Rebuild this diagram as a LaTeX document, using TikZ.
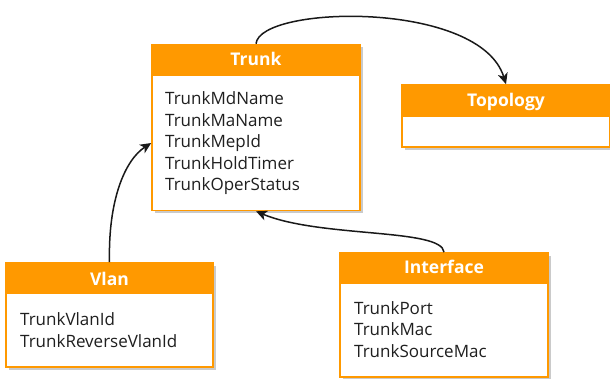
\documentclass[tikz,border=0pt]{standalone}
\usepackage{fontspec}
\setmainfont{Open Sans}
\usetikzlibrary{arrows.meta,shadows,positioning}
\definecolor{tabor}{HTML}{FF9900}
\tikzset{
  x=1pt, y=-1pt,
  tablebox/.style={draw=tabor, line width=1.6pt, fill=white, rectangle, inner sep=0pt,
    drop shadow={shadow xshift=3pt, shadow yshift=-3pt, opacity=0.35, fill=black!60}},
  tablehead/.style={fill=tabor, draw=tabor, line width=1.6pt, rectangle, inner sep=0pt, anchor=north},
  title/.style={text=white, font=\fontsize{17.5}{19}\selectfont\bfseries, anchor=base, inner sep=0pt},
  % the base anchor of a multi-line block sits on its last line
  fields/.style={align=left, anchor=base west, inner sep=0pt,
    font=\fontsize{17}{21.5}\selectfont, text=black!88},
  link/.style={draw=black!90, line width=1.5pt, -{Stealth[length=11pt,width=10pt,inset=3pt]}}
}
\begin{document}
\begin{tikzpicture}
\useasboundingbox (0,0) rectangle (610,379);
% Trunk
\node[tablebox, minimum width=208, minimum height=166] (trunk) at (256,127.5) {};
\node[tablehead, minimum width=208, minimum height=31] (trunkh) at (trunk.north) {};
\node[title] (trunkt) at (256,66) {Trunk};
\node[fields] (trunkf) at (165,191) {TrunkMdName\\TrunkMaName\\TrunkMepId\\TrunkHoldTimer\\TrunkOperStatus};
% Topology
\node[tablebox, minimum width=208, minimum height=62] (topo) at (506,116) {};
\node[tablehead, minimum width=208, minimum height=31] (topoh) at (topo.north) {};
\node[title] (topot) at (506,107) {Topology};
% Vlan
\node[tablebox, minimum width=207, minimum height=104] (vlan) at (109.5,315) {};
\node[tablehead, minimum width=207, minimum height=30] (vlanh) at (vlan.north) {};
\node[title] (vlant) at (109.5,285) {Vlan};
\node[fields] (vlanf) at (20,347) {TrunkVlanId\\TrunkReverseVlanId};
% Interface
\node[tablebox, minimum width=208, minimum height=124] (iface) at (444,315) {};
\node[tablehead, minimum width=208, minimum height=30] (ifaceh) at (iface.north) {};
\node[title] (ifacet) at (444,273) {Interface};
\node[fields] (ifacef) at (354,357) {TrunkPort\\TrunkMac\\TrunkSourceMac};
% relations
\draw[link] (trunkh.north) .. controls (260,5) and (480,0) .. (topoh.north);
\draw[link] (vlanh.north) .. controls (108,200) and (125,160) .. (trunk.west |- 0,143);
\draw[link] (ifaceh.north) .. controls (442,228) and (320,238) .. (trunk.south);
\end{tikzpicture}
\end{document}
